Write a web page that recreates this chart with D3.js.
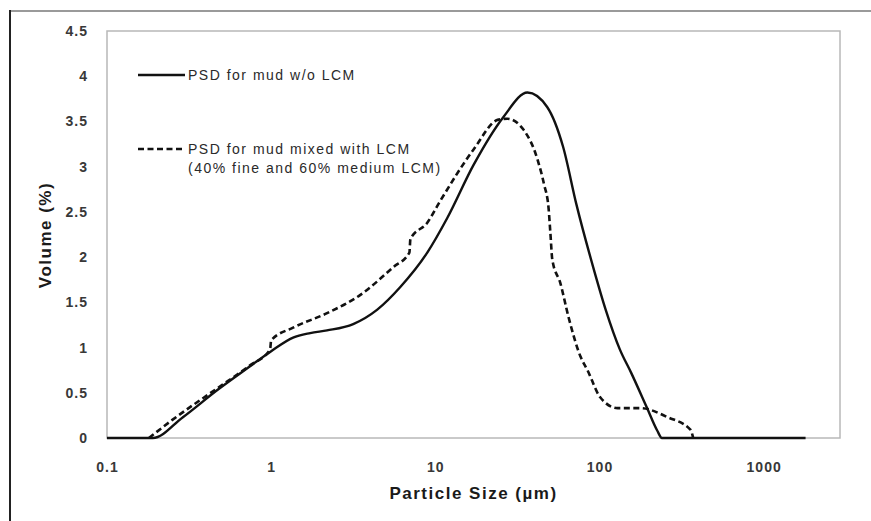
<!DOCTYPE html>
<html>
<head>
<meta charset="utf-8">
<script src="https://cdn.jsdelivr.net/npm/d3@7"></script>
<style>
  body { margin: 0; background: #fff; }
  svg { display: block; }
</style>
</head>
<body>
<div id="chart"></div>
<script>
// particle size (um) and volume (%)
var solidX = [0.1, 0.19, 0.29, 0.47, 0.74, 1.0, 1.36, 1.73, 2.19, 3.16, 4.43, 6.12, 8.93, 11.8, 17.1, 26, 36.4, 48, 60, 72.4, 91.5, 109, 133, 156, 194, 225, 240, 1800];
var solidY = [0, 0, 0.23, 0.53, 0.79, 0.96, 1.11, 1.16, 1.19, 1.26, 1.42, 1.67, 2.05, 2.43, 3.02, 3.55, 3.82, 3.66, 3.22, 2.58, 1.89, 1.42, 0.98, 0.72, 0.34, 0.08, 0, 0];

var dashX = [0.18, 0.25, 0.47, 0.74, 0.985, 1.0, 1.36, 2.19, 3.48, 5.55, 6.95, 7.05, 8.93, 10.7, 17.1, 24.2, 27.5, 34.4, 41.9, 46, 48.9, 50.2, 51.6, 57.8, 64.7, 76.6, 84.5, 101, 129, 178, 260, 359, 372];
var dashY = [0, 0.2, 0.55, 0.8, 0.98, 1.08, 1.22, 1.38, 1.58, 1.89, 2.05, 2.2, 2.38, 2.62, 3.19, 3.52, 3.53, 3.41, 3.08, 2.8, 2.55, 2.27, 1.97, 1.71, 1.34, 0.9, 0.75, 0.45, 0.33, 0.33, 0.23, 0.09, 0];

var xTicks = [0.1, 1, 10, 100, 1000];
var yTicks = [0, 0.5, 1, 1.5, 2, 2.5, 3, 3.5, 4, 4.5];

var legendLabels = ["PSD for mud w/o LCM", "PSD for mud mixed with LCM", "(40% fine and 60% medium LCM)"];

var W = 871, H = 521;
var margin = {top: 31, right: 31, bottom: 83, left: 107};

var svg = d3.select("#chart")
    .append("svg")
    .attr("width", W)
    .attr("height", H);

// outer frame (left and top edges only are visible)
svg.append("line")
    .attr("x1", 10).attr("x2", W)
    .attr("y1", 11).attr("y2", 11)
    .attr("stroke", "#9a9a9a")
    .attr("stroke-width", 2);
svg.append("line")
    .attr("x1", 10).attr("x2", 10)
    .attr("y1", 10).attr("y2", H)
    .attr("stroke", "#222")
    .attr("stroke-width", 2);

var x = d3.scaleLog()
    .domain([0.1, Math.pow(10, 3.465)])
    .range([margin.left, W - margin.right]);

var y = d3.scaleLinear()
    .domain([0, 4.5])
    .range([H - margin.bottom, margin.top]);

// plot area border
svg.append("rect")
    .attr("x", x.range()[0])
    .attr("y", y.range()[1])
    .attr("width", x.range()[1] - x.range()[0])
    .attr("height", y.range()[0] - y.range()[1])
    .attr("fill", "none")
    .attr("stroke", "#b8b8b8")
    .attr("stroke-width", 1.5);

// axes: labels only, no tick lines
var xAxis = d3.axisBottom(x)
    .tickValues(xTicks)
    .tickFormat(function(d) { return String(d); })
    .tickSize(0)
    .tickPadding(24);

var yAxis = d3.axisLeft(y)
    .tickValues(yTicks)
    .tickFormat(function(d) { return String(d); })
    .tickSize(0)
    .tickPadding(19);

var gx = svg.append("g")
    .attr("transform", "translate(0," + y(0) + ")")
    .call(xAxis);
var gy = svg.append("g")
    .attr("transform", "translate(" + x.range()[0] + ",0)")
    .call(yAxis);

[gx, gy].forEach(function(g) {
    g.select(".domain").remove();
    g.selectAll("text")
        .attr("font-family", "Liberation Sans, Arial, sans-serif")
        .attr("font-size", "14px")
        .attr("font-weight", "bold")
        .attr("letter-spacing", "1px")
        .attr("fill", "#383838");
});

// series
var solidData = solidX.map(function(d, i) { return [d, solidY[i]]; });
var dashData = dashX.map(function(d, i) { return [d, dashY[i]]; });

var line = d3.line()
    .x(function(d) { return x(d[0]); })
    .y(function(d) { return y(d[1]); })
    .curve(d3.curveMonotoneX);

svg.append("path")
    .datum(dashData)
    .attr("d", line)
    .attr("fill", "none")
    .attr("stroke", "#111")
    .attr("stroke-width", 2.6)
    .attr("stroke-dasharray", "6,3.5");

svg.append("path")
    .datum(solidData)
    .attr("d", line)
    .attr("fill", "none")
    .attr("stroke", "#111")
    .attr("stroke-width", 2.4);

// legend
svg.append("line")
    .attr("x1", 138).attr("x2", 185)
    .attr("y1", 75).attr("y2", 75)
    .attr("stroke", "#111")
    .attr("stroke-width", 2.6);
svg.append("line")
    .attr("x1", 138).attr("x2", 185)
    .attr("y1", 149).attr("y2", 149)
    .attr("stroke", "#111")
    .attr("stroke-width", 2.6)
    .attr("stroke-dasharray", "6,3.5");

var legendY = [75, 149, 168];
legendLabels.forEach(function(t, i) {
    svg.append("text")
        .attr("x", 188)
        .attr("y", legendY[i])
        .attr("dy", "0.35em")
        .text(t)
        .attr("font-family", "Liberation Sans, Arial, sans-serif")
        .attr("font-size", "14px")
        .attr("letter-spacing", "1.5px")
        .attr("fill", "#2a2a2a");
});

// axis titles
svg.append("text")
    .attr("x", (x.range()[0] + x.range()[1]) / 2)
    .attr("y", 493)
    .attr("dy", "0.35em")
    .attr("text-anchor", "middle")
    .text("Particle Size (µm)")
    .attr("font-family", "Liberation Sans, Arial, sans-serif")
    .attr("font-size", "17px")
    .attr("font-weight", "bold")
    .attr("letter-spacing", "1.5px")
    .attr("fill", "#1a1a1a");

svg.append("text")
    .attr("transform", "translate(45," + 235 + ") rotate(-90)")
    .attr("dy", "0.35em")
    .attr("text-anchor", "middle")
    .text("Volume (%)")
    .attr("font-family", "Liberation Sans, Arial, sans-serif")
    .attr("font-size", "17px")
    .attr("font-weight", "bold")
    .attr("letter-spacing", "1.5px")
    .attr("fill", "#1a1a1a");
</script>
</body>
</html>
